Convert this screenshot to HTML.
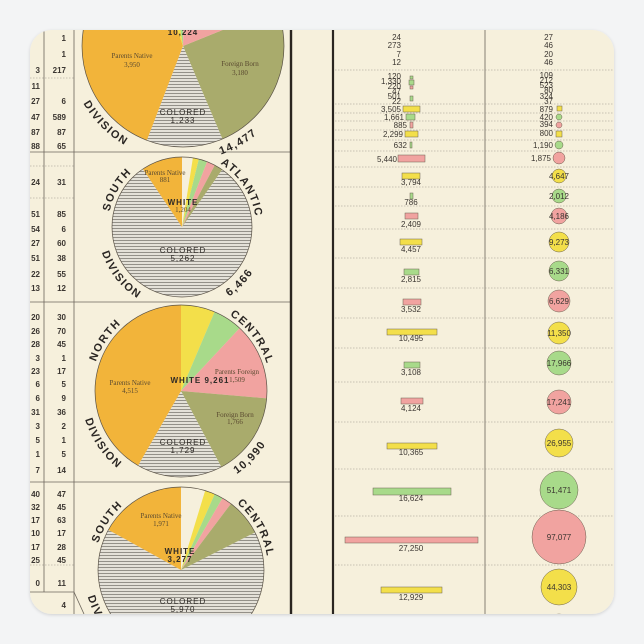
<!DOCTYPE html>
<html><head><meta charset="utf-8"><style>
html,body{margin:0;padding:0;background:#f3f4f5;}
svg{display:block}
.n{font-family:"Liberation Sans",sans-serif;font-size:8px;fill:#3a3530;}
.s{font-family:"Liberation Serif",serif;font-size:7px;fill:#5a4a30;}
.c{font-family:"Liberation Sans",sans-serif;font-size:8px;letter-spacing:1px;fill:#2e2a26;}
.d{font-family:"Liberation Sans",sans-serif;font-size:11px;font-weight:bold;letter-spacing:1.5px;fill:#2a2623;}
</style></head><body>
<svg width="644" height="644" viewBox="0 0 644 644" xmlns="http://www.w3.org/2000/svg">
<defs>
<clipPath id="clip"><rect x="30" y="30" width="584" height="584" rx="22"/></clipPath>
<pattern id="st" width="3" height="4" patternUnits="userSpaceOnUse"><rect width="3" height="4" fill="#e4e1d8"/><rect x="0" width="0.9" height="4" fill="#8a8780"/></pattern>
<filter id="sh" x="-5%" y="-5%" width="110%" height="110%"><feDropShadow dx="0" dy="1" stdDeviation="1.5" flood-color="#000" flood-opacity="0.15"/></filter>
</defs>
<rect x="30" y="30" width="584" height="584" rx="22" fill="#f6f0dc" filter="url(#sh)"/>
<g clip-path="url(#clip)">
<g stroke="#6b655b" stroke-width="0.8">
<line x1="44" y1="0" x2="44" y2="592"/><line x1="74" y1="0" x2="74" y2="640"/>
<line x1="30" y1="152" x2="290" y2="152"/><line x1="30" y1="302" x2="290" y2="302"/><line x1="30" y1="482" x2="290" y2="482"/>
<line x1="30" y1="592" x2="74" y2="592"/><line x1="74" y1="592" x2="84" y2="614"/>
<line x1="485" y1="0" x2="485" y2="640"/>
</g>
<line x1="291" y1="0" x2="291" y2="640" stroke="#2a2520" stroke-width="2.4"/>
<line x1="333" y1="0" x2="333" y2="640" stroke="#2a2520" stroke-width="2.2"/>
<g stroke="#9a9488" stroke-width="0.6" stroke-dasharray="1.5 1.5">
<line x1="30" y1="78" x2="74" y2="78"/><line x1="30" y1="166" x2="74" y2="166"/><line x1="30" y1="198" x2="74" y2="198"/><line x1="30" y1="565" x2="74" y2="565"/>
<line x1="335" y1="70" x2="614" y2="70"/><line x1="335" y1="104" x2="614" y2="104"/><line x1="335" y1="113" x2="614" y2="113"/><line x1="335" y1="121" x2="614" y2="121"/><line x1="335" y1="130" x2="614" y2="130"/><line x1="335" y1="140" x2="614" y2="140"/><line x1="335" y1="151" x2="614" y2="151"/><line x1="335" y1="167" x2="614" y2="167"/><line x1="335" y1="187" x2="614" y2="187"/><line x1="335" y1="206" x2="614" y2="206"/><line x1="335" y1="229" x2="614" y2="229"/><line x1="335" y1="258" x2="614" y2="258"/><line x1="335" y1="288" x2="614" y2="288"/><line x1="335" y1="318" x2="614" y2="318"/><line x1="335" y1="348" x2="614" y2="348"/><line x1="335" y1="382" x2="614" y2="382"/><line x1="335" y1="422" x2="614" y2="422"/><line x1="335" y1="469" x2="614" y2="469"/><line x1="335" y1="516" x2="614" y2="516"/><line x1="335" y1="565" x2="614" y2="565"/>
</g>
<g class="n" text-anchor="end" font-weight="bold">
<text x="66" y="41">1</text><text x="66" y="57">1</text><text x="40" y="73">3</text><text x="66" y="73">217</text><text x="40" y="89">11</text>
<text x="40" y="104">27</text><text x="66" y="104">6</text><text x="40" y="120">47</text><text x="66" y="120">589</text><text x="40" y="135">87</text><text x="66" y="135">87</text><text x="40" y="149">88</text><text x="66" y="149">65</text>
<text x="40" y="185">24</text><text x="66" y="185">31</text><text x="40" y="217">51</text><text x="66" y="217">85</text><text x="40" y="232">54</text><text x="66" y="232">6</text><text x="40" y="246">27</text><text x="66" y="246">60</text><text x="40" y="261">51</text><text x="66" y="261">38</text><text x="40" y="277">22</text><text x="66" y="277">55</text><text x="40" y="291">13</text><text x="66" y="291">12</text>
<text x="40" y="320">20</text><text x="66" y="320">30</text><text x="40" y="334">26</text><text x="66" y="334">70</text><text x="40" y="347">28</text><text x="66" y="347">45</text><text x="40" y="361">3</text><text x="66" y="361">1</text><text x="40" y="374">23</text><text x="66" y="374">17</text><text x="40" y="387">6</text><text x="66" y="387">5</text><text x="40" y="401">6</text><text x="66" y="401">9</text><text x="40" y="415">31</text><text x="66" y="415">36</text><text x="40" y="429">3</text><text x="66" y="429">2</text><text x="40" y="443">5</text><text x="66" y="443">1</text><text x="40" y="457">1</text><text x="66" y="457">5</text><text x="40" y="473">7</text><text x="66" y="473">14</text>
<text x="40" y="497">40</text><text x="66" y="497">47</text><text x="40" y="510">32</text><text x="66" y="510">45</text><text x="40" y="523">17</text><text x="66" y="523">63</text><text x="40" y="536">10</text><text x="66" y="536">17</text><text x="40" y="550">17</text><text x="66" y="550">28</text><text x="40" y="563">25</text><text x="66" y="563">45</text><text x="40" y="586">0</text><text x="66" y="586">11</text><text x="66" y="608">4</text>
</g>

<!-- PIE 1 -->
<g transform="rotate(-90 183 46)" fill="none" stroke-width="101">
<circle cx="183" cy="46" r="50.5" pathLength="360" stroke="#a9ab6c" stroke-dasharray="89 360" stroke-dashoffset="-68"/>
<circle cx="183" cy="46" r="50.5" pathLength="360" stroke="url(#st)" stroke-dasharray="44 360" stroke-dashoffset="-157"/>
<circle cx="183" cy="46" r="50.5" pathLength="360" stroke="#f2b43a" stroke-dasharray="140 360" stroke-dashoffset="-201"/>
<circle cx="183" cy="46" r="50.5" pathLength="360" stroke="#f3df4a" stroke-dasharray="10 360" stroke-dashoffset="-341"/>
<circle cx="183" cy="46" r="50.5" pathLength="360" stroke="#a8da8a" stroke-dasharray="10 360" stroke-dashoffset="-351"/>
<circle cx="183" cy="46" r="50.5" pathLength="360" stroke="#f1a3a0" stroke-dasharray="67 360" stroke-dashoffset="-1"/>
</g>
<circle cx="183" cy="46" r="101" fill="none" stroke="#5a5246" stroke-width="0.7"/>
<text class="s" x="132" y="58" text-anchor="middle">Parents Native</text><text class="s" x="132" y="67" text-anchor="middle">3,950</text>
<text class="s" x="240" y="66" text-anchor="middle">Foreign Born</text><text class="s" x="240" y="75" text-anchor="middle">3,180</text>
<text class="c" x="183" y="115" text-anchor="middle">COLORED</text><text class="c" x="183" y="123" text-anchor="middle">1,233</text>
<text class="c" x="183" y="35" text-anchor="middle" font-weight="bold">10,224</text>
<path id="b1" d="M68,46 A115,115 0 1 0 298,46 A115,115 0 1 0 68,46" fill="none"/>
<text class="d"><textPath href="#b1" startOffset="12.5%" text-anchor="middle">DIVISION</textPath></text>
<text class="d"><textPath href="#b1" startOffset="33.3%" text-anchor="middle">14,477</textPath></text>

<!-- PIE 2 -->
<g transform="rotate(-90 182 227)" fill="none" stroke-width="70">
<circle cx="182" cy="227" r="35" pathLength="360" stroke="url(#st)" stroke-dasharray="291 360" stroke-dashoffset="-35"/>
<circle cx="182" cy="227" r="35" pathLength="360" stroke="#f2b43a" stroke-dasharray="43 360" stroke-dashoffset="-326"/>
<circle cx="182" cy="227" r="35" pathLength="360" stroke="#f3df4a" stroke-dasharray="5 360" stroke-dashoffset="-9"/>
<circle cx="182" cy="227" r="35" pathLength="360" stroke="#a8da8a" stroke-dasharray="7 360" stroke-dashoffset="-14"/>
<circle cx="182" cy="227" r="35" pathLength="360" stroke="#f1a3a0" stroke-dasharray="7 360" stroke-dashoffset="-21"/>
<circle cx="182" cy="227" r="35" pathLength="360" stroke="#a9ab6c" stroke-dasharray="7 360" stroke-dashoffset="-28"/>
</g>
<circle cx="182" cy="227" r="70" fill="none" stroke="#5a5246" stroke-width="0.7"/>
<text class="s" x="165" y="175" text-anchor="middle">Parents Native</text><text class="s" x="165" y="182" text-anchor="middle">881</text>
<text class="c" x="183" y="205" text-anchor="middle" font-weight="bold">WHITE</text><text class="s" x="183" y="212" text-anchor="middle">1,204</text>
<text class="c" x="183" y="253" text-anchor="middle">COLORED</text><text class="c" x="183" y="261" text-anchor="middle">5,262</text>
<path id="t2" d="M108,227 A74,74 0 1 1 256,227 A74,74 0 1 1 108,227" fill="none"/>
<path id="b2" d="M98,227 A84,84 0 1 0 266,227 A84,84 0 1 0 98,227" fill="none"/>
<text class="d"><textPath href="#t2" startOffset="8.3%" text-anchor="middle">SOUTH</textPath></text>
<text class="d"><textPath href="#t2" startOffset="40.8%" text-anchor="middle">ATLANTIC</textPath></text>
<text class="d"><textPath href="#b2" startOffset="10.6%" text-anchor="middle">DIVISION</textPath></text>
<text class="d"><textPath href="#b2" startOffset="37.8%" text-anchor="middle">6,466</textPath></text>

<!-- PIE 3 -->
<g transform="rotate(-90 181 391)" fill="none" stroke-width="86">
<circle cx="181" cy="391" r="43" pathLength="360" stroke="#f3df4a" stroke-dasharray="23 360" stroke-dashoffset="0"/>
<circle cx="181" cy="391" r="43" pathLength="360" stroke="#a8da8a" stroke-dasharray="20 360" stroke-dashoffset="-23"/>
<circle cx="181" cy="391" r="43" pathLength="360" stroke="#f1a3a0" stroke-dasharray="52 360" stroke-dashoffset="-43"/>
<circle cx="181" cy="391" r="43" pathLength="360" stroke="#a9ab6c" stroke-dasharray="57 360" stroke-dashoffset="-95"/>
<circle cx="181" cy="391" r="43" pathLength="360" stroke="url(#st)" stroke-dasharray="58 360" stroke-dashoffset="-152"/>
<circle cx="181" cy="391" r="43" pathLength="360" stroke="#f2b43a" stroke-dasharray="150 360" stroke-dashoffset="-210"/>
</g>
<circle cx="181" cy="391" r="86" fill="none" stroke="#5a5246" stroke-width="0.7"/>
<text class="s" x="130" y="385" text-anchor="middle">Parents Native</text><text class="s" x="130" y="393" text-anchor="middle">4,515</text>
<text class="c" x="200" y="383" text-anchor="middle" font-weight="bold" font-size="7">WHITE 9,261</text>
<text class="s" x="237" y="374" text-anchor="middle">Parents Foreign</text><text class="s" x="237" y="382" text-anchor="middle">1,509</text>
<text class="s" x="235" y="417" text-anchor="middle">Foreign Born</text><text class="s" x="235" y="424" text-anchor="middle">1,766</text>
<text class="c" x="183" y="445" text-anchor="middle">COLORED</text><text class="c" x="183" y="453" text-anchor="middle">1,729</text>
<path id="t3" d="M91,391 A90,90 0 1 1 271,391 A90,90 0 1 1 91,391" fill="none"/>
<path id="b3" d="M81,391 A100,100 0 1 0 281,391 A100,100 0 1 0 81,391" fill="none"/>
<text class="d"><textPath href="#t3" startOffset="9.4%" text-anchor="middle">NORTH</textPath></text>
<text class="d"><textPath href="#t3" startOffset="39.7%" text-anchor="middle">CENTRAL</textPath></text>
<text class="d"><textPath href="#b3" startOffset="9.4%" text-anchor="middle">DIVISION</textPath></text>
<text class="d"><textPath href="#b3" startOffset="37.8%" text-anchor="middle">10,990</textPath></text>

<!-- PIE 4 -->
<g transform="rotate(-90 181 570)" fill="none" stroke-width="83">
<circle cx="181" cy="570" r="41.5" pathLength="360" stroke="url(#st)" stroke-dasharray="236 360" stroke-dashoffset="-63"/>
<circle cx="181" cy="570" r="41.5" pathLength="360" stroke="#f2b43a" stroke-dasharray="78 360" stroke-dashoffset="-299"/>
<circle cx="181" cy="570" r="41.5" pathLength="360" stroke="#f3df4a" stroke-dasharray="7 360" stroke-dashoffset="-17"/>
<circle cx="181" cy="570" r="41.5" pathLength="360" stroke="#a8da8a" stroke-dasharray="6 360" stroke-dashoffset="-24"/>
<circle cx="181" cy="570" r="41.5" pathLength="360" stroke="#f1a3a0" stroke-dasharray="7 360" stroke-dashoffset="-30"/>
<circle cx="181" cy="570" r="41.5" pathLength="360" stroke="#a9ab6c" stroke-dasharray="26 360" stroke-dashoffset="-37"/>
</g>
<circle cx="181" cy="570" r="83" fill="none" stroke="#5a5246" stroke-width="0.7"/>
<text class="s" x="161" y="518" text-anchor="middle">Parents Native</text><text class="s" x="161" y="526" text-anchor="middle">1,971</text>
<text class="c" x="180" y="554" text-anchor="middle" font-weight="bold">WHITE</text><text class="c" x="180" y="562" text-anchor="middle" font-weight="bold">3,277</text>
<text class="c" x="183" y="604" text-anchor="middle">COLORED</text><text class="c" x="183" y="612" text-anchor="middle">5,970</text>
<path id="t4" d="M94,570 A87,87 0 1 1 268,570 A87,87 0 1 1 94,570" fill="none"/>
<path id="b4" d="M84,570 A97,97 0 1 0 278,570 A97,97 0 1 0 84,570" fill="none"/>
<text class="d"><textPath href="#t4" startOffset="9.2%" text-anchor="middle">SOUTH</textPath></text>
<text class="d"><textPath href="#t4" startOffset="41.9%" text-anchor="middle">CENTRAL</textPath></text>
<text class="d"><textPath href="#b4" startOffset="9.4%" text-anchor="middle">DIVISION</textPath></text>

<!-- bars -->
<g class="n" text-anchor="end" font-size="6">
<text x="401" y="40">24</text><text x="401" y="48">273</text><text x="401" y="57">7</text><text x="401" y="65">12</text>
<text x="401" y="79">120</text><text x="401" y="84">1,330</text><text x="401" y="89">220</text><text x="401" y="94">47</text><text x="401" y="99">501</text><text x="401" y="104">22</text>
<text x="553" y="40">27</text><text x="553" y="48">46</text><text x="553" y="57">20</text><text x="553" y="65">46</text>
<text x="553" y="78">109</text><text x="553" y="83">212</text><text x="553" y="88">523</text><text x="553" y="93">80</text><text x="553" y="99">324</text><text x="553" y="104">37</text>
</g>
<g stroke="#6a6050" stroke-width="0.5">
<rect x="410" y="76" width="3" height="3" fill="#a8da8a"/><rect x="409" y="80" width="5" height="5" fill="#a8da8a"/><rect x="410" y="86" width="3" height="3" fill="#f1a3a0"/><rect x="410" y="96" width="3" height="5" fill="#a8da8a"/>
<rect x="403" y="106" width="17" height="6" fill="#f3df4a"/><rect x="406" y="114" width="9" height="6" fill="#a8da8a"/><rect x="410" y="122" width="3" height="6" fill="#f1a3a0"/><rect x="405" y="131" width="13" height="6" fill="#f3df4a"/><rect x="410" y="142" width="2" height="6" fill="#a8da8a"/>
<rect x="398" y="155" width="27" height="7" fill="#f1a3a0"/>
<rect x="402" y="173" width="18" height="6" fill="#f3df4a"/><rect x="410" y="193" width="3" height="6" fill="#a8da8a"/><rect x="405" y="213" width="13" height="6" fill="#f1a3a0"/><rect x="400" y="239" width="22" height="6" fill="#f3df4a"/><rect x="404" y="269" width="15" height="6" fill="#a8da8a"/><rect x="403" y="299" width="18" height="6" fill="#f1a3a0"/>
<rect x="387" y="329" width="50" height="6" fill="#f3df4a"/><rect x="404" y="362" width="16" height="6" fill="#a8da8a"/><rect x="401" y="398" width="22" height="6" fill="#f1a3a0"/><rect x="387" y="443" width="50" height="6" fill="#f3df4a"/><rect x="373" y="488" width="78" height="7" fill="#a8da8a"/><rect x="345" y="537" width="133" height="6" fill="#f1a3a0"/><rect x="381" y="587" width="61" height="6" fill="#f3df4a"/>
</g>
<g class="n" text-anchor="end">
<text x="401" y="112">3,505</text><text x="404" y="120">1,661</text><text x="407" y="128">885</text><text x="403" y="137">2,299</text><text x="407" y="148">632</text><text x="397" y="162">5,440</text>
</g>
<g class="n" text-anchor="middle">
<text x="411" y="185">3,794</text><text x="411" y="205">786</text><text x="411" y="227">2,409</text><text x="411" y="252">4,457</text><text x="411" y="282">2,815</text><text x="411" y="312">3,532</text><text x="411" y="341">10,495</text><text x="411" y="375">3,108</text><text x="411" y="411">4,124</text><text x="411" y="455">10,365</text><text x="411" y="501">16,624</text><text x="411" y="551">27,250</text><text x="411" y="600">12,929</text>
</g>
<g stroke="#6a6050" stroke-width="0.5">
<rect x="557" y="106" width="5" height="5" fill="#f3df4a"/><circle cx="559" cy="117" r="3" fill="#a8da8a"/><circle cx="559" cy="125" r="3" fill="#f1a3a0"/><rect x="556" y="131" width="6" height="6" fill="#f3df4a"/><circle cx="559" cy="145" r="4" fill="#a8da8a"/><circle cx="559" cy="158" r="6" fill="#f1a3a0"/>
<circle cx="559" cy="176" r="7" fill="#f3df4a"/><circle cx="559" cy="196" r="7" fill="#a8da8a"/><circle cx="559" cy="216" r="8" fill="#f1a3a0"/><circle cx="559" cy="242" r="10" fill="#f3df4a"/><circle cx="559" cy="271" r="10" fill="#a8da8a"/><circle cx="559" cy="301" r="11" fill="#f1a3a0"/><circle cx="559" cy="333" r="11" fill="#f3df4a"/><circle cx="559" cy="363" r="12" fill="#a8da8a"/><circle cx="559" cy="402" r="12" fill="#f1a3a0"/><circle cx="559" cy="443" r="14" fill="#f3df4a"/><circle cx="559" cy="490" r="19" fill="#a8da8a"/><circle cx="559" cy="537" r="27" fill="#f1a3a0"/><circle cx="559" cy="587" r="18" fill="#f3df4a"/><circle cx="559" cy="628" r="14" fill="#a8da8a"/>
</g>
<g class="n" text-anchor="end">
<text x="553" y="112">879</text><text x="553" y="120">420</text><text x="553" y="127">394</text><text x="553" y="136">800</text><text x="553" y="148">1,190</text><text x="551" y="161">1,875</text>
</g>
<g class="n" text-anchor="middle">
<text x="559" y="179">4,647</text><text x="559" y="199">2,012</text><text x="559" y="219">4,186</text><text x="559" y="245">9,273</text><text x="559" y="274">6,331</text><text x="559" y="304">6,629</text><text x="559" y="336">11,350</text><text x="559" y="366">17,966</text><text x="559" y="405">17,241</text><text x="559" y="446">26,955</text><text x="559" y="493">51,471</text><text x="559" y="540">97,077</text><text x="559" y="590">44,303</text>
</g>
</g>
</svg>
</body></html>
